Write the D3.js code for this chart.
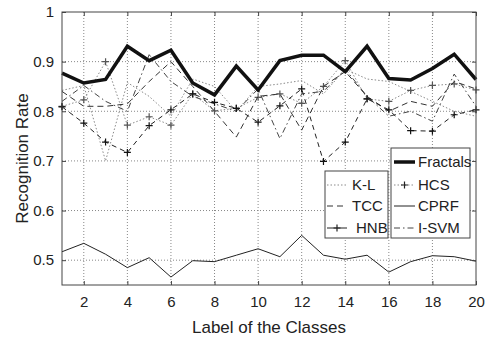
<!DOCTYPE html>
<html>
<head>
<meta charset="utf-8">
<script src="https://cdn.jsdelivr.net/npm/d3@7"></script>
<style>
  html, body { margin: 0; padding: 0; background: #fff; }
  svg { display: block; font-family: "Liberation Sans", Arial, sans-serif; }
</style>
</head>
<body>
<div id="chart"></div>
<script>
// data
const classes = d3.range(1, 21);
const fractals = [0.877, 0.857, 0.864, 0.931, 0.902, 0.923, 0.857, 0.833, 0.891, 0.843, 0.902, 0.913, 0.913, 0.88, 0.931, 0.866, 0.863, 0.886, 0.915, 0.864];
const kl = [0.842, 0.852, 0.70, 0.858, 0.83, 0.79, 0.865, 0.85, 0.80, 0.85, 0.855, 0.862, 0.835, 0.885, 0.865, 0.86, 0.84, 0.82, 0.80, 0.79];
const hcs = [0.81, 0.823, 0.90, 0.772, 0.789, 0.772, 0.835, 0.801, 0.806, 0.828, 0.835, 0.816, 0.85, 0.902, 0.825, 0.82, 0.842, 0.852, 0.855, 0.843];
const tcc = [0.84, 0.81, 0.81, 0.815, 0.86, 0.90, 0.85, 0.80, 0.748, 0.83, 0.835, 0.762, 0.85, 0.88, 0.83, 0.80, 0.82, 0.81, 0.86, 0.845];
const cprf = [0.517, 0.534, 0.512, 0.485, 0.505, 0.466, 0.499, 0.497, 0.51, 0.523, 0.507, 0.55, 0.51, 0.502, 0.51, 0.476, 0.497, 0.509, 0.507, 0.498];
const hnb = [0.809, 0.776, 0.738, 0.717, 0.771, 0.803, 0.835, 0.818, 0.806, 0.778, 0.811, 0.845, 0.699, 0.738, 0.825, 0.803, 0.761, 0.76, 0.793, 0.803];
const isvm = [0.82, 0.852, 0.82, 0.80, 0.914, 0.86, 0.83, 0.815, 0.80, 0.845, 0.745, 0.835, 0.84, 0.885, 0.83, 0.79, 0.80, 0.78, 0.875, 0.81];

const xTicks = [2, 4, 6, 8, 10, 12, 14, 16, 18, 20];
const yTicks = [0.5, 0.6, 0.7, 0.8, 0.9, 1];

// drawing order: thin lines first, fractals on top
const series = [
  { name: 'K-L', values: kl, color: '#8a8a8a', width: 1, dash: '1.5,2', marker: false },
  { name: 'HCS', values: hcs, color: '#8a8a8a', width: 1, dash: '1.5,2', marker: true },
  { name: 'TCC', values: tcc, color: '#333', width: 1, dash: '6,4', marker: false },
  { name: 'I-SVM', values: isvm, color: '#444', width: 1, dash: '6,3,1.5,3', marker: false },
  { name: 'HNB', values: hnb, color: '#222', width: 1, dash: '5,4', marker: true },
  { name: 'CPRF', values: cprf, color: '#222', width: 1, dash: null, marker: false },
  { name: 'Fractals', values: fractals, color: '#111', width: 3.5, dash: null, marker: false }
];

const width = 487, height = 339;
const margin = { top: 12, right: 11, bottom: 54, left: 62 };
const innerW = width - margin.left - margin.right;
const innerH = height - margin.top - margin.bottom;

const svg = d3.select('#chart').append('svg')
  .attr('width', width)
  .attr('height', height);

const g = svg.append('g').attr('transform', `translate(${margin.left},${margin.top})`);

const x = d3.scaleLinear().domain([1, 20]).range([0, innerW]);
const y = d3.scaleLinear().domain([0.45, 1]).range([innerH, 0]);

// Grid
g.append('g').selectAll('line')
  .data(xTicks.filter(d => d < 20))
  .join('line')
  .attr('x1', d => x(d)).attr('x2', d => x(d))
  .attr('y1', 0).attr('y2', innerH)
  .attr('stroke', '#888').attr('stroke-dasharray', '1,2');

g.append('g').selectAll('line')
  .data(yTicks.filter(d => d < 1))
  .join('line')
  .attr('x1', 0).attr('x2', innerW)
  .attr('y1', d => y(d)).attr('y2', d => y(d))
  .attr('stroke', '#888').attr('stroke-dasharray', '1,2');

// Lines
const line = d3.line()
  .x((d, i) => x(classes[i]))
  .y(d => y(d));

const plus = 'M-3.5,0H3.5M0,-3.5V3.5';

series.forEach(s => {
  g.append('path')
    .datum(s.values)
    .attr('d', line)
    .attr('fill', 'none')
    .attr('stroke', s.color)
    .attr('stroke-width', s.width)
    .attr('stroke-linejoin', 'miter')
    .attr('stroke-dasharray', s.dash);
  if (s.marker) {
    g.append('g').selectAll('path')
      .data(s.values)
      .join('path')
      .attr('d', plus)
      .attr('transform', (d, i) => `translate(${x(classes[i])},${y(d)})`)
      .attr('stroke', s.color === '#8a8a8a' ? '#555' : '#111')
      .attr('stroke-width', 1.2)
      .attr('fill', 'none');
  }
});

// Axes
const tickStyle = sel => {
  sel.select('.domain').remove();
  sel.selectAll('.tick line').attr('stroke', '#444');
  sel.selectAll('.tick text').attr('fill', '#222').style('font-size', '15px')
    .style('font-family', '"Liberation Sans", Arial, sans-serif');
};

g.append('g')
  .attr('transform', `translate(0,${innerH})`)
  .call(d3.axisBottom(x).tickValues(xTicks).tickSize(-4).tickPadding(11).tickFormat(d3.format('d')))
  .call(tickStyle);

g.append('g')
  .call(d3.axisLeft(y).tickValues(yTicks).tickSize(-4).tickPadding(8).tickFormat(d => d === 1 ? '1' : d3.format('.1f')(d)))
  .call(tickStyle);

// right/top ticks
g.append('g')
  .attr('transform', `translate(${innerW},0)`)
  .call(d3.axisRight(y).tickValues(yTicks).tickSize(-4).tickFormat(''))
  .call(tickStyle);
g.append('g')
  .call(d3.axisTop(x).tickValues(xTicks).tickSize(-4).tickFormat(''))
  .call(tickStyle);

g.append('rect')
  .attr('width', innerW).attr('height', innerH)
  .attr('fill', 'none').attr('stroke', '#444').attr('stroke-width', 1);

// Axis titles
svg.append('text')
  .attr('x', margin.left + innerW / 2).attr('y', 333)
  .attr('text-anchor', 'middle')
  .style('font-size', '17px').attr('fill', '#222')
  .text('Label of the Classes');

svg.append('text')
  .attr('transform', `translate(28,${margin.top + innerH / 2 + 10}) rotate(-90)`)
  .attr('text-anchor', 'middle')
  .style('font-size', '17px').attr('fill', '#222')
  .text('Recognition Rate');

// Legends (two boxes)
const legendBoxes = [
  { x: 325, y: 171, w: 63, h: 67, items: ['K-L', 'TCC', 'HNB'], rowY: [185, 206, 228], sample: [327, 347], textX: 352 },
  { x: 391, y: 148, w: 79, h: 90, items: ['Fractals', 'HCS', 'CPRF', 'I-SVM'], rowY: [162, 185, 206, 228], sample: [394, 415], textX: 418 }
];

legendBoxes.forEach(b => {
  const lg = svg.append('g');
  lg.append('rect')
    .attr('x', b.x).attr('y', b.y).attr('width', b.w).attr('height', b.h)
    .attr('fill', '#fff').attr('stroke', '#444');
  b.items.forEach((name, i) => {
    const s = series.find(d => d.name === name);
    const yy = b.rowY[i];
    lg.append('line')
      .attr('x1', b.sample[0]).attr('x2', b.sample[1])
      .attr('y1', yy).attr('y2', yy)
      .attr('stroke', s.color)
      .attr('stroke-width', s.width)
      .attr('stroke-dasharray', name === 'HNB' ? null : s.dash);
    if (s.marker) {
      lg.append('path')
        .attr('d', plus)
        .attr('transform', `translate(${(b.sample[0] + b.sample[1]) / 2},${yy})`)
        .attr('stroke', '#222').attr('stroke-width', 1.2);
    }
    lg.append('text')
      .attr('x', name === 'HNB' ? b.textX + 4 : b.textX).attr('y', yy + 5)
      .style('font-size', '15px').attr('fill', '#222')
      .text(name);
  });
});
</script>
</body>
</html>
